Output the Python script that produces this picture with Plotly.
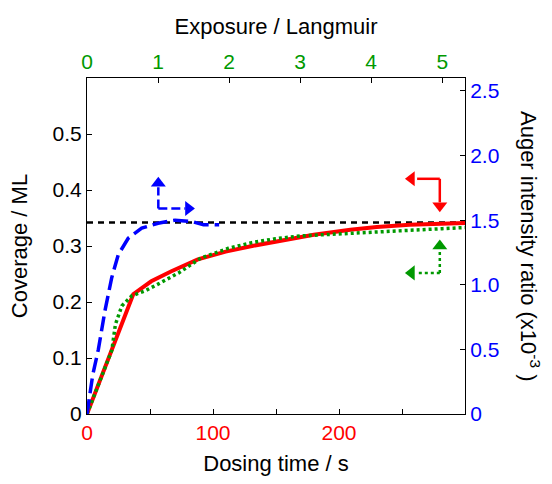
import plotly.graph_objects as go

# Red: coverage vs dosing time (bottom axis, left axis)
time_s = [0, 36.7, 51, 67, 88, 110, 131, 157, 180, 209, 230, 256, 280, 300]
cov_time = [0, 0.214, 0.237, 0.255, 0.276, 0.290, 0.300, 0.311, 0.320, 0.329, 0.334, 0.338, 0.340, 0.341]

# Green: coverage vs exposure (top axis, left axis)
exposure_green = [0, 0.35, 0.40, 0.49, 0.63, 0.82, 1.0, 1.29, 1.61, 1.99, 2.32, 2.65, 3.0, 3.7, 4.4, 5.0, 5.32]
cov_green = [0, 0.114, 0.16, 0.193, 0.211, 0.22, 0.232, 0.252, 0.279, 0.296, 0.306, 0.313, 0.318, 0.323, 0.327, 0.331, 0.333]

# Blue: Auger intensity ratio vs exposure (top axis, right axis)
exposure_blue = [0, 0.08, 0.16, 0.253, 0.348, 0.44, 0.58, 0.77, 1.0, 1.24, 1.47, 1.64, 1.86]
auger_ratio = [0, 0.30, 0.50, 0.80, 1.055, 1.233, 1.36, 1.438, 1.476, 1.50, 1.49, 1.464, 1.464]

# Saturation level
sat_time = [0, 300]
sat_cov = [0.342, 0.342]

# Tick labels
bottom_ticks = [0, 100, 200]
bottom_minor = [50, 150, 250]
top_ticks = [0, 1, 2, 3, 4, 5]
left_ticks = [0, 0.1, 0.2, 0.3, 0.4, 0.5]
left_text = ["0", "0.1", "0.2", "0.3", "0.4", "0.5"]
right_ticks = [0, 0.5, 1.0, 1.5, 2.0, 2.5]
right_text = ["0", "0.5", "1.0", "1.5", "2.0", "2.5"]

RED = "#ff0000"
GREEN = "#009900"
BLUE = "#0000ff"
FONT = "Liberation Sans, Arial, sans-serif"

fig = go.Figure()
fig.add_trace(go.Scatter(x=sat_time, y=sat_cov, mode="lines", xaxis="x", yaxis="y",
                         line=dict(color="black", width=2.5, dash="6px,5px"), showlegend=False))
fig.add_trace(go.Scatter(x=exposure_green, y=cov_green, mode="lines", xaxis="x2", yaxis="y",
                         line=dict(color=GREEN, width=3.5, dash="3px,3px"), showlegend=False))
fig.add_trace(go.Scatter(x=exposure_blue, y=auger_ratio, mode="lines", xaxis="x2", yaxis="y2",
                         line=dict(color=BLUE, width=3.5, dash="15px,6px"), showlegend=False))
fig.add_trace(go.Scatter(x=time_s, y=cov_time, mode="lines", xaxis="x", yaxis="y",
                         line=dict(color=RED, width=4), showlegend=False))

axis_common = dict(showline=True, linecolor="black", linewidth=1, ticks="inside", ticklen=5,
                   tickcolor="black", showgrid=False, zeroline=False)

fig.update_layout(
    width=552, height=484,
    margin=dict(l=87, r=87, t=78, b=66),
    plot_bgcolor="white", paper_bgcolor="white",
    font=dict(family=FONT, size=21, color="black"),
    xaxis=dict(range=[0, 300], tickvals=bottom_ticks,
               minor=dict(tickvals=bottom_minor, ticks="inside", ticklen=5, tickcolor="black"),
               tickfont=dict(color=RED, size=21),
               title=dict(text="Dosing time / s", font=dict(size=22), standoff=12),
               **axis_common),
    xaxis2=dict(range=[0, 5.32], overlaying="x", side="top", anchor="y",
                tickvals=top_ticks, tickfont=dict(color=GREEN, size=21),
                title=dict(text="Exposure / Langmuir", font=dict(size=22), standoff=8),
                **axis_common),
    yaxis=dict(range=[0, 0.6], tickvals=left_ticks, ticktext=left_text,
               tickfont=dict(size=21),
               title=dict(text="Coverage / ML", font=dict(size=22), standoff=18),
               **axis_common),
    yaxis2=dict(range=[0, 2.6], overlaying="y", side="right", anchor="x",
                tickvals=right_ticks, ticktext=right_text,
                tickfont=dict(color=BLUE, size=21),
                **axis_common),
)

# Right axis title reading top-to-bottom
fig.add_annotation(text="Auger intensity ratio (x10<sup>-3</sup> )", xref="paper", yref="paper",
                   x=1.172, y=0.5, xanchor="center", yanchor="middle", textangle=90,
                   showarrow=False, font=dict(size=22, color="black"))

# Axis-indicator arrows (L-shaped): corner, vertical end, horizontal end, head positions
def l_arrow(corner, vend, hend, color, dash, vhead, vsym, hhead, hsym):
    cx, cy = corner
    fig.add_shape(type="line", xref="x", yref="y", x0=cx, y0=cy, x1=cx, y1=vend,
                  line=dict(color=color, width=2.5, dash=dash))
    fig.add_shape(type="line", xref="x", yref="y", x0=cx, y0=cy, x1=hend, y1=cy,
                  line=dict(color=color, width=2.5, dash=dash))
    fig.add_trace(go.Scatter(x=[cx, hhead], y=[vhead, cy], mode="markers", xaxis="x", yaxis="y",
                             marker=dict(symbol=[vsym, hsym], size=13, color=color),
                             showlegend=False, hoverinfo="skip"))

# Blue: up (top axis), right (right axis)
l_arrow((56.6, 0.367), 0.405, 78, BLUE, "9px,4px", 0.412, "triangle-up", 80.5, "triangle-right")
# Red: left (left axis), down (bottom axis)
l_arrow((280, 0.42), 0.378, 262, RED, "solid", 0.372, "triangle-down", 257.5, "triangle-left")
# Green: up (top axis), left (left axis)
l_arrow((280, 0.252), 0.293, 262, GREEN, "3px,3px", 0.300, "triangle-up", 257.5, "triangle-left")

fig.write_html("out.html")
